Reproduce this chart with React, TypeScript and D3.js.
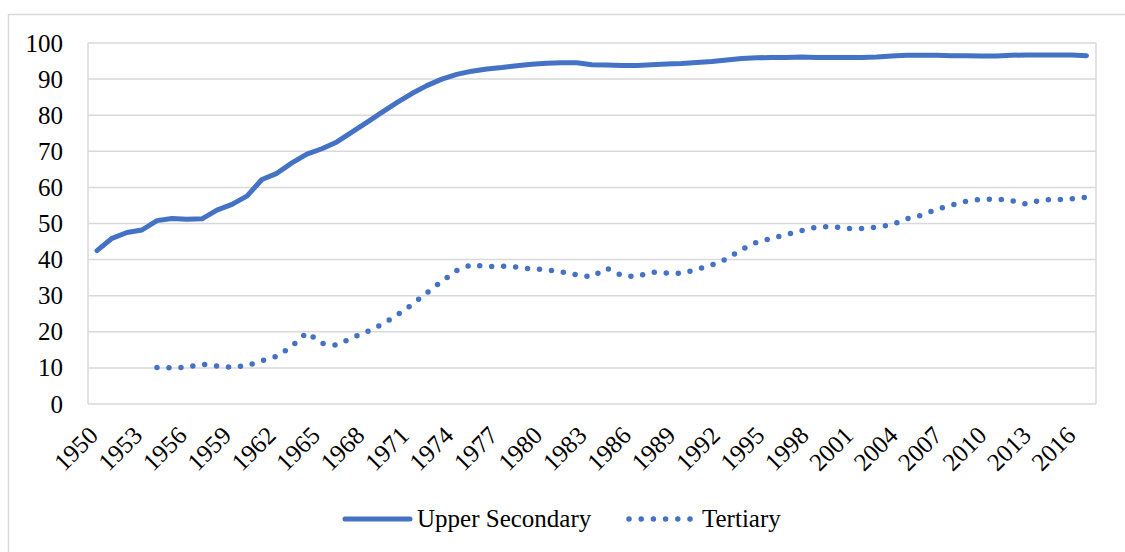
import React from "react";
import * as d3 from "d3";

const years: number[] = d3.range(1950, 2017);

const upperSecondary: number[] = [
  42.5, 45.9, 47.5, 48.2, 50.8, 51.4, 51.2, 51.3, 53.7, 55.3,
  57.6, 62.2, 63.9, 66.8, 69.2, 70.7, 72.6, 75.3, 78.0, 80.8,
  83.5, 86.0, 88.2, 90.0, 91.3, 92.2, 92.8, 93.2, 93.7, 94.1,
  94.4, 94.5, 94.5, 94.0, 93.9, 93.8, 93.8, 94.0, 94.2, 94.3,
  94.6, 94.9, 95.3, 95.7, 95.9, 96.0, 96.0, 96.1, 96.0, 96.0,
  96.0, 96.0, 96.1, 96.4, 96.6, 96.6, 96.6, 96.5, 96.5, 96.4,
  96.4, 96.6, 96.7, 96.7, 96.7, 96.7, 96.5,
];

const tertiary: (number | null)[] = [
  null, null, null, null, 10.1, 10.0, 10.2, 11.0, 10.5, 10.2,
  10.6, 12.0, 13.2, 16.0, 19.8, 16.8, 16.3, 18.3, 20.0, 22.0,
  24.6, 27.5, 30.8, 34.0, 37.0, 38.6, 38.0, 38.2, 37.9, 37.4,
  37.2, 36.6, 35.8, 35.2, 37.6, 35.6, 35.3, 36.5, 36.3, 36.2,
  37.3, 38.5, 40.2, 42.8, 44.8, 45.9, 47.0, 48.0, 49.0, 49.2,
  48.6, 48.6, 49.0, 49.6, 51.3, 52.3, 53.9, 55.1, 56.2, 56.7,
  56.8, 56.3, 55.4, 56.5, 56.6, 56.8, 57.3,
];

const yTicks: number[] = [0, 10, 20, 30, 40, 50, 60, 70, 80, 90, 100];
const xTickYears: number[] = d3.range(1950, 2017, 3);
const seriesNames: string[] = ["Upper Secondary", "Tertiary"];

const COLOR = "#4472C4";
const GRID = "#d9d9d9";

export default function App() {
  const left = 88, right = 1096, top = 43, bottom = 404;
  // data points
  const x = d3.scalePoint<number>().domain(years).range([97, 1086.5]);
  const cx = (yr: number) => x(yr) as number;
  // rotated tick labels (their right ends)
  const xLabel = d3.scaleLinear().domain([1950, 2016]).range([99.5, 1077]);
  const y = d3.scaleLinear().domain([0, 100]).range([bottom, top]);

  const lineUS = d3
    .line<number>()
    .x((_, i) => cx(years[i]))
    .y((d) => y(d));
  const lineT = d3
    .line<number | null>()
    .defined((d) => d !== null)
    .x((_, i) => cx(years[i]))
    .y((d) => y(d as number));

  const textStyle = { fontFamily: '"Liberation Serif"', fontSize: "25px" };

  return (
    <svg width={1125} height={552} style={{ position: "absolute", left: 0, top: 0, background: "#fff" }}>
      <rect x={8.5} y={14.5} width={1130} height={560} fill="#fff" stroke={GRID} strokeWidth={1.5} />
      {yTicks.map((t) => (
        <g key={t}>
          <line x1={left} x2={right} y1={y(t)} y2={y(t)} stroke={GRID} strokeWidth={1.5} />
          <text x={63} y={y(t)} dy="0.34em" textAnchor="end" style={textStyle} fill="#000">
            {t}
          </text>
        </g>
      ))}
      <line x1={left} x2={left} y1={top} y2={bottom} stroke={GRID} strokeWidth={1.5} />
      <line x1={right} x2={right} y1={top} y2={bottom} stroke={GRID} strokeWidth={1.5} />
      {xTickYears.map((yr) => (
        <text
          key={yr}
          transform={`translate(${xLabel(yr)},${bottom + 33}) rotate(-45)`}
          textAnchor="end"
          style={textStyle}
          fill="#000"
        >
          {yr}
        </text>
      ))}
      <path
        d={lineUS(upperSecondary) || ""}
        fill="none"
        stroke={COLOR}
        strokeWidth={5}
        strokeLinejoin="round"
        strokeLinecap="round"
      />
      <path
        d={lineT(tertiary) || ""}
        fill="none"
        stroke={COLOR}
        strokeWidth={5.5}
        strokeLinejoin="round"
        strokeLinecap="round"
        strokeDasharray="0 12"
      />
      <line x1={345} x2={410} y1={519} y2={519} stroke={COLOR} strokeWidth={5} strokeLinecap="round" />
      <text x={417} y={527} style={textStyle} fill="#000">
        {seriesNames[0]}
      </text>
      <line
        x1={629}
        x2={690}
        y1={519}
        y2={519}
        stroke={COLOR}
        strokeWidth={5.5}
        strokeLinecap="round"
        strokeDasharray="0 12.2"
      />
      <text x={702} y={527} style={textStyle} fill="#000">
        {seriesNames[1]}
      </text>
    </svg>
  );
}
